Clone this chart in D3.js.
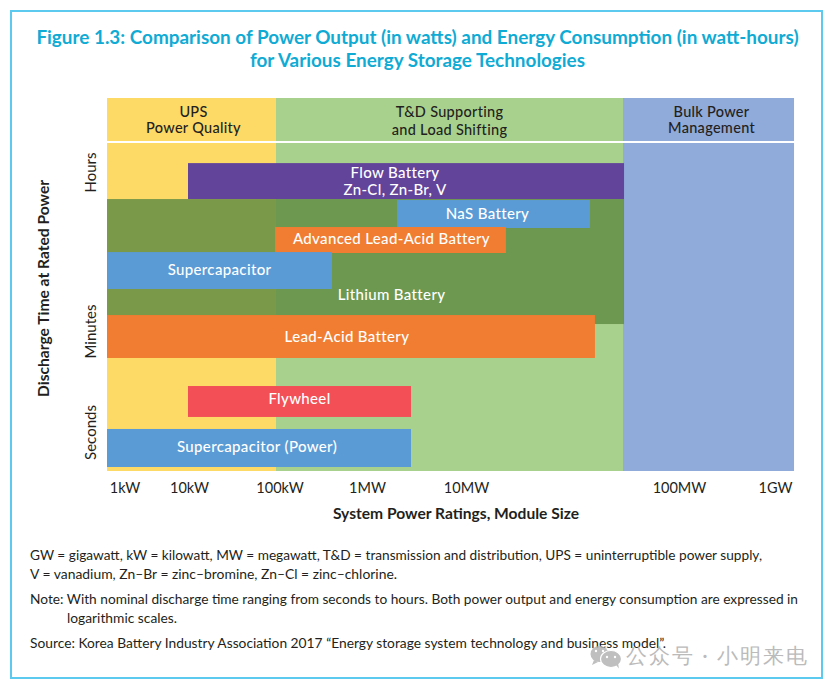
<!DOCTYPE html>
<html>
<head>
<meta charset="utf-8">
<style>
html,body{margin:0;padding:0;background:#fff}
svg{display:block}
text{font-family:Lato,"Noto Sans",sans-serif}
</style>
<script src="https://cdn.jsdelivr.net/npm/d3@7"></script>
</head>
<body>
<svg id="fig" width="834" height="688"></svg>
<script>
// Power ratings are held in kW, discharge times in seconds.
const powerTicks = [1, 10, 100, 1000, 10000, 100000, 1000000];
const powerTickLabels = ["1kW", "10kW", "100kW", "1MW", "10MW", "100MW", "1GW"];
const timeTicks = [1, 60, 3600];
const timeTickLabels = ["Seconds", "Minutes", "Hours"];

const bandNames = [["UPS", "Power Quality"], ["T&D Supporting", "and Load Shifting"], ["Bulk Power", "Management"]];
const bandFrom = [0.5356, 91.5, 54600];
const bandTo = [91.5, 54600, 1578000];
const bandColors = ["#fdd966", "#a9d18e", "#90aad9"];

const techNames = [
  ["Lithium Battery"], ["Flow Battery", "Zn-Cl, Zn-Br, V"], ["NaS Battery"],
  ["Advanced Lead-Acid Battery"], ["Supercapacitor"], ["Lead-Acid Battery"],
  ["Flywheel"], ["Supercapacitor (Power)"]
];
const techPowerMin = [0.5356, 9.65, 2010, 89.2, 0.5356, 0.5356, 9.65, 0.5356];
const techPowerMax = [55200, 55200, 38200, 15400, 398, 40300, 2783, 2783];
const techTimeMin = [71.8, 1794, 851, 447, 177, 20.1, 1.84, 0.242];
const techTimeMax = [1794, 4527, 1749, 873, 458, 90.5, 6.45, 1.13];
const techColors = ["#618d44", "#63449b", "#5b9bd5", "#f07d31", "#5b9bd5", "#f07d31", "#f25056", "#5b9bd5"];
const techOpacity = [0.845, 1, 1, 1, 1, 1, 1, 1];

const titleLines = [
  "Figure 1.3: Comparison of Power Output (in watts) and Energy Consumption (in watt-hours)",
  "for Various Energy Storage Technologies"
];
const notes = [
  { text: "GW = gigawatt, kW = kilowatt, MW = megawatt, T&D = transmission and distribution, UPS = uninterruptible power supply,", x: 30, y: 560, len: 732 },
  { text: "V = vanadium, Zn\u2013Br = zinc\u2013bromine, Zn\u2013Cl = zinc\u2013chlorine.", x: 30, y: 579, len: 367 },
  { text: "Note: With nominal discharge time ranging from seconds to hours. Both power output and energy consumption are expressed in", x: 30, y: 604, len: 768 },
  { text: "logarithmic scales.", x: 67, y: 623, len: 110 },
  { text: "Source: Korea Battery Industry Association 2017 \u201cEnergy storage system technology and business model\u201d.", x: 30, y: 648, len: 636 }
];

const svg = d3.select("#fig");

// Both axes are logarithmic but unevenly stretched, so each decade gets its own segment.
const x = d3.scaleLog().domain(powerTicks).range([124.5, 189, 279.5, 367, 466, 679, 775]);
const y = d3.scaleLog().domain(timeTicks).range([432, 331, 172]);
const headerTop = 98, headerHeight = 43, bodyTop = 143, bodyBottom = 471;

// Outer frame
svg.append("rect").attr("x", 11).attr("y", 11).attr("width", 811).attr("height", 667)
  .attr("fill", "#fff").attr("stroke", "#5cc9ee").attr("stroke-width", 2);

// Title
svg.append("g").selectAll("text").data(titleLines).join("text")
  .attr("x", 417.5).attr("y", (d, i) => 44 + i * 23)
  .attr("text-anchor", "middle").attr("font-size", 18.9).attr("font-weight", 700)
  .attr("fill", "#0fabd4").text(d => d);

// Application bands: header strip and body column
const bandLabelShift = [2, 0, 3];
const bandLineGap = [16, 18, 16];
const bands = svg.append("g");
bandNames.forEach((names, i) => {
  const x0 = x(bandFrom[i]), x1 = x(bandTo[i]);
  bands.append("rect").attr("x", x0).attr("y", headerTop).attr("width", x1 - x0).attr("height", headerHeight).attr("fill", bandColors[i]);
  bands.append("rect").attr("x", x0).attr("y", bodyTop).attr("width", x1 - x0).attr("height", bodyBottom - bodyTop).attr("fill", bandColors[i]);
  names.forEach((line, k) => {
    bands.append("text").attr("x", (x0 + x1) / 2 + bandLabelShift[i]).attr("y", 117 + k * bandLineGap[i])
      .attr("text-anchor", "middle").attr("font-size", 14.5).attr("font-weight", 500)
      .attr("letter-spacing", 0.3).attr("fill", "#231f20").text(line);
  });
});

// Technology ranges, later entries sit on top of earlier ones
const techIndex = d3.range(techNames.length);
svg.append("g").selectAll("rect").data(techIndex).join("rect")
  .attr("x", i => x(techPowerMin[i]))
  .attr("y", i => y(techTimeMax[i]))
  .attr("width", i => x(techPowerMax[i]) - x(techPowerMin[i]))
  .attr("height", i => y(techTimeMin[i]) - y(techTimeMax[i]))
  .attr("fill", i => techColors[i])
  .attr("fill-opacity", i => techOpacity[i]);

// Range labels, nudged off the bar centre where neighbouring bars would cover them
const labelShiftX = [26, -11, -6, 1, 0, -4, 0, -2];
const labelShiftY = [33, 0, 0, -1, -1, 0, -2, -1];
const labels = svg.append("g");
techIndex.forEach(i => {
  const cx = (x(techPowerMin[i]) + x(techPowerMax[i])) / 2 + labelShiftX[i];
  const cy = (y(techTimeMin[i]) + y(techTimeMax[i])) / 2 + labelShiftY[i];
  const lines = techNames[i];
  lines.forEach((line, k) => {
    labels.append("text").attr("x", cx).attr("y", cy + 5 + (k - (lines.length - 1) / 2) * 17)
      .attr("text-anchor", "middle").attr("font-size", 15).attr("font-weight", 500)
      .attr("letter-spacing", 0.35).attr("fill", "#fff").text(line);
  });
});

// Axes carry labels only: no ticks and no domain line
const xAxis = d3.axisBottom(x).tickValues(powerTicks).tickSize(0).tickFormat((d, i) => powerTickLabels[i]);
svg.append("g").attr("transform", "translate(0,476)").call(xAxis)
  .call(g => g.select(".domain").remove())
  .call(g => g.selectAll("text").attr("font-family", "Lato").attr("font-size", 14.5).attr("fill", "#231f20").attr("dy", 14));

const yAxis = d3.axisLeft(y).tickValues(timeTicks).tickSize(0).tickFormat((d, i) => timeTickLabels[i]);
svg.append("g").attr("transform", "translate(96,0)").call(yAxis)
  .call(g => g.select(".domain").remove())
  .call(g => g.selectAll("text")
    .attr("font-family", "Lato").attr("font-size", 15).attr("fill", "#231f20")
    .attr("text-anchor", "middle").attr("x", 0).attr("dy", 0)
    .attr("transform", "rotate(-90)"));

svg.append("text").attr("x", 456).attr("y", 519).attr("text-anchor", "middle")
  .attr("font-size", 15.6).attr("font-weight", 700).attr("fill", "#231f20")
  .text("System Power Ratings, Module Size");
svg.append("text").attr("transform", "translate(49,288.5) rotate(-90)").attr("text-anchor", "middle")
  .attr("font-size", 15.6).attr("font-weight", 700).attr("fill", "#231f20")
  .text("Discharge Time at Rated Power");

// Footnotes
svg.append("g").selectAll("text").data(notes).join("text")
  .attr("x", d => d.x).attr("y", d => d.y)
  .attr("font-size", 13).attr("fill", "#231f20")
  .attr("textLength", d => d.len).attr("lengthAdjust", "spacingAndGlyphs")
  .text(d => d.text);

// Account mark in the lower right corner
const mark = svg.append("g").attr("opacity", 0.85);
mark.append("ellipse").attr("cx", 599.5).attr("cy", 654).attr("rx", 9).attr("ry", 8).attr("fill", "#b4b4b4");
mark.append("path").attr("d", "M594 660 l-2 5 l6 -3 z").attr("fill", "#b4b4b4");
mark.append("ellipse").attr("cx", 611).attr("cy", 659).attr("rx", 10.5).attr("ry", 8.5).attr("fill", "#b4b4b4").attr("stroke", "#fff").attr("stroke-width", 1.2);
mark.append("path").attr("d", "M616 665 l3 3.5 l-1 -5 z").attr("fill", "#b4b4b4");
[[596, 651], [603, 651], [607, 657], [615, 657]].forEach(p => {
  mark.append("circle").attr("cx", p[0]).attr("cy", p[1]).attr("r", 1.2).attr("fill", "#fff");
});
mark.append("text").attr("x", 626).attr("y", 663)
  .attr("font-family", "'Noto Sans CJK SC'").attr("font-size", 21)
  .attr("textLength", 181).attr("fill", "#b0b0b0").text("公众号 · 小明来电");
</script>
</body>
</html>
